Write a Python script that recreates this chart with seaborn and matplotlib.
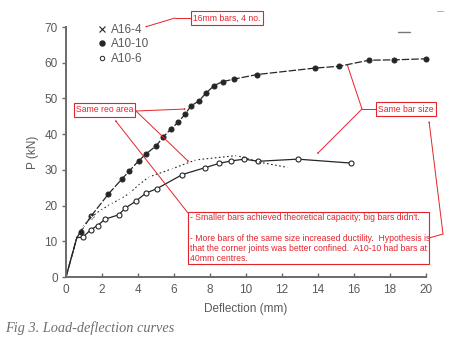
import matplotlib
matplotlib.use("Agg")
import matplotlib.pyplot as plt
from matplotlib.lines import Line2D
from matplotlib.patches import Rectangle, FancyArrowPatch
import seaborn as sns
import pandas as pd

# Load-deflection test results (deflection in mm, load P in kN)
a16_4_defl = [0, 0.6, 0.96, 1.43, 1.9, 2.47, 3.0, 3.52, 4.0, 4.6, 5.9, 7.22, 9.48, 10.9, 12.3]
a16_4_load = [0, 11.0, 14.3, 16.9, 18.6, 20.4, 21.8, 23.4, 25.6, 28.0, 30.3, 32.8, 34.0, 32.0, 30.7]

a10_10_defl = [0, 0.6, 0.82, 1.4, 2.35, 3.1, 3.52, 4.05, 4.46, 5.02, 5.4, 5.82, 6.24, 6.62, 6.93,
               7.4, 7.8, 8.23, 8.7, 9.33, 10.63, 13.83, 15.17, 16.83, 18.2, 20.0]
a10_10_load = [0, 11.0, 12.7, 17.1, 23.2, 27.4, 29.7, 32.6, 34.5, 36.8, 39.2, 41.4, 43.4, 45.6, 47.8,
               49.4, 51.6, 53.6, 54.7, 55.4, 56.7, 58.5, 59.0, 60.7, 60.8, 61.1]

a10_6_defl = [0, 0.6, 0.95, 1.37, 1.75, 2.17, 2.92, 3.3, 3.9, 4.44, 5.04, 6.47, 7.72, 8.5, 9.17,
              9.9, 10.68, 12.87, 15.83]
a10_6_load = [0, 11.0, 11.2, 13.2, 14.4, 16.2, 17.4, 19.3, 21.3, 23.5, 24.7, 28.7, 30.6, 31.8, 32.5,
              33.0, 32.4, 33.0, 31.9]

series_names = ["A16-4", "A10-10", "A10-6"]
x_ticks = list(range(0, 21, 2))
y_ticks = list(range(0, 71, 10))

W, H = 455, 346
RED = "#e5232b"
INK = "#262626"
GREY = "#5a5a5a"

sns.set_theme(style="white")
plt.rcParams["font.family"] = ["Liberation Sans", "DejaVu Sans"]

fig = plt.figure(figsize=(W / 100, H / 100), dpi=100)
ax = fig.add_axes([66 / W, 1 - 277 / H, (426 - 66) / W, (277 - 27) / H])


def fp(x, y):
    """Pixel position (from top-left) to figure fraction."""
    return (x / W, 1 - y / H)


frames = {
    "A16-4": pd.DataFrame({"d": a16_4_defl, "p": a16_4_load}),
    "A10-10": pd.DataFrame({"d": a10_10_defl, "p": a10_10_load}),
    "A10-6": pd.DataFrame({"d": a10_6_defl, "p": a10_6_load}),
}

sns.lineplot(data=frames["A10-6"], x="d", y="p", ax=ax, color=INK, lw=0.9,
             estimator=None, sort=False, marker="o", markersize=3.6, markerfacecolor="white",
             markeredgecolor=INK, markeredgewidth=0.8, markevery=slice(2, None), clip_on=False)
sns.lineplot(data=frames["A10-10"], x="d", y="p", ax=ax, color=INK, lw=0.9,
             estimator=None, sort=False, linestyle=(0, (6, 1.6)), marker="o", markersize=3.6,
             markerfacecolor=INK, markeredgecolor=INK, markevery=slice(2, None), clip_on=False)
sns.lineplot(data=frames["A16-4"], x="d", y="p", ax=ax, color=INK, lw=0.8,
             estimator=None, sort=False, linestyle=(0, (1.5, 2.2)), marker="x", markersize=2.5,
             markeredgewidth=0.7, markevery=slice(2, 13), clip_on=False)

ax.set_xlim(0, 20)
ax.set_ylim(0, 70)
ax.set_xticks(x_ticks)
ax.set_yticks(y_ticks)
sns.despine(ax=ax)
for s in ("left", "bottom"):
    ax.spines[s].set_color("#6a6a6a")
    ax.spines[s].set_linewidth(1.4)
ax.tick_params(axis="y", direction="out", length=3, width=1, color="#6a6a6a",
               labelsize=8.5, labelcolor=GREY, pad=3, left=True)
ax.tick_params(axis="x", direction="in", length=3, width=1, color="#6a6a6a",
               labelsize=8.5, labelcolor=GREY, pad=5, bottom=True)
ax.set_xlabel("Deflection (mm)", fontsize=8.5, color=GREY, labelpad=5)
ax.set_ylabel("P (kN)", fontsize=8.5, color=GREY, labelpad=4)

handles = [
    Line2D([], [], ls="none", marker="x", ms=5, mew=0.8, color=INK),
    Line2D([], [], ls="none", marker="o", ms=3.6, color=INK),
    Line2D([], [], ls="none", marker="o", ms=3.2, mfc="white", mec=INK, mew=0.7),
]
leg = ax.legend(handles, series_names, loc="upper left", bbox_to_anchor=fp(98, 24),
                bbox_transform=fig.transFigure, frameon=False, fontsize=8.5,
                handlelength=0.6, handletextpad=0.5, labelspacing=0.2,
                borderpad=0, borderaxespad=0)
for t in leg.get_texts():
    t.set_color(GREY)

# small stray marks in the top right corner
fig.add_artist(Line2D([398 / W, 410 / W], [1 - 32 / H] * 2, color="#777777", lw=1))
fig.add_artist(Line2D([437 / W, 443 / W], [1 - 11 / H] * 2, color="#aaaaaa", lw=0.7))

# red annotation boxes and arrows
box_kw = dict(boxstyle="square,pad=0.25", fc="white", ec=RED, lw=0.8)
arrow_kw = dict(arrowstyle="->,head_length=0.5,head_width=0.25", color=RED, lw=0.7,
                shrinkA=0, shrinkB=0)


def seg(p0, p1):
    fig.add_artist(Line2D([p0[0] / W, p1[0] / W], [1 - p0[1] / H, 1 - p1[1] / H],
                          color=RED, lw=0.7))


def arrow(p0, p1):
    fig.add_artist(FancyArrowPatch(fp(*p0), fp(*p1), transform=fig.transFigure, **arrow_kw))


fig.text(*fp(227, 18), "16mm bars, 4 no.", ha="center", va="center", fontsize=6.2,
         color=RED, bbox=box_kw)
seg((192, 18), (175, 18))
arrow((175, 18), (145, 27))

fig.text(*fp(104.5, 110), "Same reo area", ha="center", va="center", fontsize=6.2,
         color=RED, bbox=box_kw)
arrow((136, 111), (186, 109))
arrow((136, 111), (189, 162))

fig.text(*fp(406, 109), "Same bar size", ha="center", va="center", fontsize=6.2,
         color=RED, bbox=box_kw)
seg((377, 109), (362, 109))
arrow((362, 109), (347, 64))
arrow((362, 109), (317, 154))

fig.add_artist(Rectangle(fp(188, 264), 241 / W, 52 / H, transform=fig.transFigure,
                         fc="white", ec=RED, lw=0.8))
note = ("- Smaller bars achieved theoretical capacity; big bars didn't.\n\n"
        "- More bars of the same size increased ductility.  Hypothesis is\n"
        "that the corner joints was better confined.  A10-10 had bars at\n"
        "40mm centres.")
fig.text(*fp(190, 213), note, ha="left", va="top", fontsize=6.2, color=RED,
         linespacing=1.18)
arrow((188, 213), (115, 120))
seg((429, 238), (443, 234))
arrow((443, 234), (429, 121))

fig.text(*fp(5, 328), "Fig 3. Load-deflection curves", ha="left", va="center",
         fontsize=10.3, style="italic", color="#6e6e6e",
         family=["Liberation Serif", "DejaVu Serif"])

fig.savefig("out.png", dpi=100, facecolor="white")
